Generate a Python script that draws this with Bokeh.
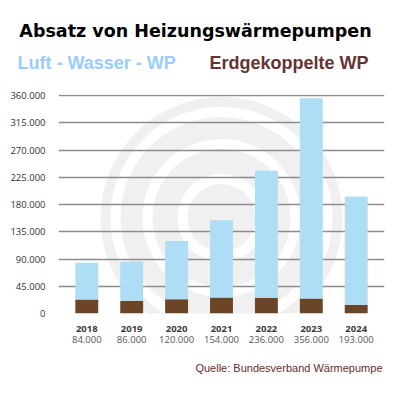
from bokeh.plotting import figure
from bokeh.layouts import column
from bokeh.models import (ColumnDataSource, FactorRange, Range1d, FixedTicker,
                          CategoricalAxis)
from bokeh.core.properties import value
from bokeh.embed import file_html
from bokeh.resources import INLINE

# ---- data ----
years = ["2018", "2019", "2020", "2021", "2022", "2023", "2024"]
totals = [84000, 86000, 120000, 154000, 236000, 356000, 193000]
ground = [23000, 21000, 23500, 26500, 25500, 25000, 14500]
air = [t - g for t, g in zip(totals, ground)]
y_ticks = [0, 45000, 90000, 135000, 180000, 225000, 270000, 315000, 360000]

title_text = "Absatz von Heizungswärmepumpen"
legend_air = "Luft - Wasser - WP"
legend_ground = "Erdgekoppelte WP"
source_text = "Quelle: Bundesverband Wärmepumpe"

def fmt(v):
    return f"{v:,}".replace(",", ".")

total_labels = [fmt(t) for t in totals]

W = 400
HEAD_H, MAIN_H, FOOT_H = 80, 270, 44
TICK_FONT = "Open Sans"


def text_panel(h):
    f = figure(width=W, height=h, output_backend="svg", toolbar_location=None,
               x_range=Range1d(0, W), y_range=Range1d(h, 0),
               x_axis_type=None, y_axis_type=None, min_border=0)
    f.frame_align = False
    f.outline_line_color = None
    f.background_fill_color = "white"
    f.border_fill_color = "white"
    return f

# ---- header: title and colour legend ----
head = text_panel(HEAD_H)
head.text(x=[195], y=[30.5], text=[title_text], text_font=value("DejaVu Sans"),
          text_font_style="bold", text_font_size="17.5px", text_color="black",
          text_align="center", text_baseline="alphabetic")
head.text(x=[17], y=[62], text=[legend_air], text_font=value("Liberation Sans"),
          text_font_style="bold", text_font_size="18px", text_color="#99ccff",
          text_align="left", text_baseline="alphabetic")
head.text(x=[209], y=[62], text=[legend_ground], text_font=value("Liberation Sans"),
          text_font_style="bold", text_font_size="18px", text_color="#663333",
          text_align="left", text_baseline="alphabetic")

# ---- main chart ----
p = figure(width=W, height=MAIN_H, output_backend="svg", toolbar_location=None,
           x_range=FactorRange(*years, range_padding=0.13, range_padding_units="absolute"),
           y_range=Range1d(0, 362000),
           min_border_left=58, min_border_right=16, min_border_top=14,
           min_border_bottom=37)
p.frame_align = False
p.extra_x_ranges = {"tot": FactorRange(*total_labels, range_padding=0.13,
                                       range_padding_units="absolute")}
p.outline_line_color = None
p.background_fill_color = "white"
p.border_fill_color = "white"

# watermark (decorative spiral logo, light grey bands)
for r_in, r_out in [(111, 121), (79, 101), (44, 69), (0, 34)]:
    p.annulus(x=["2021"], y=[158000], inner_radius=r_in, outer_radius=r_out,
              inner_radius_units="screen", outer_radius_units="screen",
              fill_color="#f0f0f0", line_color=None, level="underlay")

src = ColumnDataSource(dict(year=years, ground=ground, air=air))
p.vbar_stack(["ground", "air"], x="year", width=0.51, source=src,
             color=["#6b4526", "#addef5"], line_color=None)

# y axis
p.yaxis.ticker = FixedTicker(ticks=y_ticks)
p.yaxis.major_label_overrides = {t: fmt(t) for t in y_ticks}
p.yaxis.axis_line_color = None
p.yaxis.major_tick_line_color = None
p.yaxis.minor_tick_line_color = None
p.yaxis.major_label_standoff = 7
p.yaxis.major_label_text_font = TICK_FONT
p.yaxis.major_label_text_font_size = "9.5px"
p.yaxis.major_label_text_color = "#333333"

p.ygrid.ticker = FixedTicker(ticks=y_ticks)
p.ygrid.grid_line_color = "#8c8c8c"
p.ygrid.grid_line_width = 1.5
p.xgrid.grid_line_color = None

# x axes: years and totals
ax = p.xaxis[0]
ax.axis_line_color = None
ax.major_tick_line_color = None
ax.major_label_standoff = 6
ax.major_label_text_font = TICK_FONT
ax.major_label_text_font_size = "9.5px"
ax.major_label_text_font_style = "bold"
ax.major_label_text_color = "#3a3a3a"

ax2 = CategoricalAxis(x_range_name="tot")
ax2.axis_line_color = None
ax2.major_tick_line_color = None
ax2.major_label_standoff = -5
ax2.major_label_text_font = TICK_FONT
ax2.major_label_text_font_size = "9.5px"
ax2.major_label_text_color = "#555555"
p.add_layout(ax2, "below")

# ---- footer: source ----
foot = text_panel(FOOT_H)
foot.text(x=[382], y=[17], text=[source_text], text_font=value("Liberation Sans"),
          text_font_size="11px", text_color="#6b2a2a", text_align="right",
          text_baseline="alphabetic")

layout = column(head, p, foot, spacing=0)
open("out.html", "w").write(file_html(layout, INLINE))
